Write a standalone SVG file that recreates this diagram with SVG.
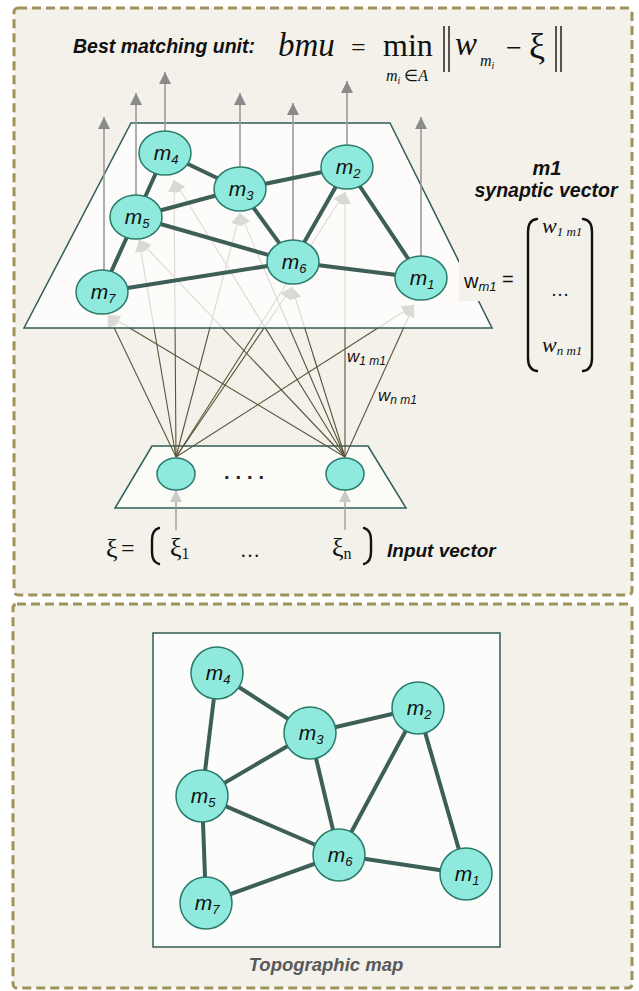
<svg xmlns="http://www.w3.org/2000/svg" width="639" height="991" viewBox="0 0 639 991">
<defs>
<marker id="ahIn" markerUnits="userSpaceOnUse" markerWidth="12" markerHeight="12" viewBox="0 0 12 12" refX="12" refY="6" orient="auto">
<path d="M0,0 L12,6 L0,12 Z" fill="#5c5339"/>
</marker>
<marker id="ahOut" markerUnits="userSpaceOnUse" markerWidth="12" markerHeight="12" viewBox="0 0 12 12" refX="12" refY="6" orient="auto">
<path d="M0,0 L12,6 L0,12 Z" fill="#8a8a8a"/>
</marker>
<marker id="ahLight" markerUnits="userSpaceOnUse" markerWidth="12" markerHeight="12" viewBox="0 0 12 12" refX="12" refY="6" orient="auto">
<path d="M0,0 L12,6 L0,12 Z" fill="#c9c9c7"/>
</marker>
</defs>
<style>
.panel{fill:#f3f1e9;stroke:#a0935a;stroke-width:3;stroke-dasharray:9 5}
.plane{fill:#ffffff;fill-opacity:0.78;stroke:#2e5e55;stroke-width:1.5}
.plane2{fill:#fbfbf8;stroke:#2e5e55;stroke-width:1.5}
.node{fill:#8fe9dc;stroke:#2a7b6b;stroke-width:1.5}
.edge{stroke:#3e5f57;stroke-width:4;stroke-linecap:round}
.in{stroke:#5c5339;stroke-width:1.1;fill:none;marker-end:url(#ahIn)}
.out{stroke:#9a9a9a;stroke-width:1.6;fill:none;marker-end:url(#ahOut)}
.inarr{stroke:#9a9a9a;stroke-width:1.3;fill:none;marker-end:url(#ahLight)}
.lbl{font-family:"Liberation Sans",Arial,sans-serif;font-style:italic;font-size:21px;fill:#111;text-anchor:middle}
.wl{font-family:"Liberation Sans",Arial,sans-serif;font-style:italic;font-size:17px;fill:#111}
.sub{font-size:13px}
.bi{font-family:"Liberation Sans",Arial,sans-serif;font-style:italic;font-weight:bold;fill:#111}
.math{font-family:"Liberation Serif","Times New Roman",serif;fill:#111}
.it{font-style:italic}
.br{stroke:#111;stroke-width:2.4;fill:none;stroke-linecap:round}
.bar{stroke:#111;stroke-width:1.4}
</style>

<!-- panels -->
<rect class="panel" x="14" y="8" width="618" height="587" rx="4"/>
<rect class="panel" x="13" y="604" width="619" height="384" rx="4"/>

<!-- title -->
<g id="title">
<text class="bi" x="73" y="53" font-size="19.5">Best matching unit:</text>
<text class="math it" x="278" y="56" font-size="33">bmu</text>
<text class="math" x="351" y="56" font-size="26">=</text>
<text class="math" x="383" y="56" font-size="32">min</text>
<text class="math" x="386" y="81" font-size="16"><tspan class="it">m</tspan><tspan class="it" font-size="10" dy="3">i</tspan><tspan dy="-3"> ∈</tspan><tspan class="it">A</tspan></text>
<line class="bar" x1="444" y1="26" x2="444" y2="72"/>
<line class="bar" x1="449" y1="26" x2="449" y2="72"/>
<text class="math it" x="455" y="55" font-size="33">w</text>
<text class="math it" x="480" y="66" font-size="16">m<tspan font-size="10" dy="3">i</tspan></text>
<text class="math" x="506" y="57" font-size="28">−</text>
<text class="math" x="529" y="58" font-size="36">ξ</text>
<line class="bar" x1="556" y1="26" x2="556" y2="72"/>
<line class="bar" x1="561" y1="26" x2="561" y2="72"/>
</g>

<!-- input plane -->
<g id="input-plane">
<polygon class="plane2" points="152,446 368,446 406,508 115,508"/>
</g>

<!-- input-to-map connectors -->
<g id="input-connectors">
<line class="in" x1="176" y1="457" x2="108" y2="315"/>
<line class="in" x1="176" y1="457" x2="139" y2="240"/>
<line class="in" x1="176" y1="457" x2="174" y2="180"/>
<line class="in" x1="176" y1="457" x2="240" y2="213"/>
<line class="in" x1="176" y1="457" x2="292" y2="287"/>
<line class="in" x1="176" y1="457" x2="345" y2="192"/>
<line class="in" x1="176" y1="457" x2="414" y2="305"/>
<line class="in" x1="345" y1="457" x2="108" y2="315"/>
<line class="in" x1="345" y1="457" x2="139" y2="240"/>
<line class="in" x1="345" y1="457" x2="174" y2="180"/>
<line class="in" x1="345" y1="457" x2="240" y2="213"/>
<line class="in" x1="345" y1="457" x2="292" y2="287"/>
<line class="in" x1="345" y1="457" x2="345" y2="192"/>
<line class="in" x1="345" y1="457" x2="414" y2="305"/>
</g>

<!-- map plane -->
<g id="map-plane">
<polygon class="plane" points="131,123 390,123 492,328 24,328"/>
</g>

<!-- output arrows -->
<g id="output-connectors">
<line class="out" x1="104" y1="270" x2="104" y2="117"/>
<line class="out" x1="136" y1="196" x2="136" y2="93"/>
<line class="out" x1="165" y1="132" x2="165" y2="72"/>
<line class="out" x1="240" y1="168" x2="240" y2="93"/>
<line class="out" x1="293" y1="241" x2="293" y2="103"/>
<line class="out" x1="347" y1="146" x2="347" y2="81"/>
<line class="out" x1="421" y1="257" x2="421" y2="117"/>
</g>

<!-- map edges -->
<g id="map-edges">
<line class="edge" x1="165" y1="153" x2="240" y2="189"/>
<line class="edge" x1="165" y1="153" x2="136" y2="217"/>
<line class="edge" x1="240" y1="189" x2="136" y2="217"/>
<line class="edge" x1="240" y1="189" x2="347" y2="167"/>
<line class="edge" x1="240" y1="189" x2="293" y2="262"/>
<line class="edge" x1="136" y1="217" x2="293" y2="262"/>
<line class="edge" x1="136" y1="217" x2="102" y2="292"/>
<line class="edge" x1="102" y1="292" x2="293" y2="262"/>
<line class="edge" x1="293" y1="262" x2="347" y2="167"/>
<line class="edge" x1="293" y1="262" x2="421" y2="278"/>
<line class="edge" x1="347" y1="167" x2="421" y2="278"/>
</g>

<!-- map nodes -->
<g id="map-m4"><ellipse class="node" cx="165" cy="153" rx="26" ry="22"/><text class="lbl" x="166" y="160">m<tspan class="sub" dy="4">4</tspan></text></g>
<g id="map-m3"><ellipse class="node" cx="240" cy="189" rx="26" ry="22"/><text class="lbl" x="241" y="196">m<tspan class="sub" dy="4">3</tspan></text></g>
<g id="map-m2"><ellipse class="node" cx="347" cy="167" rx="26" ry="22"/><text class="lbl" x="348" y="174">m<tspan class="sub" dy="4">2</tspan></text></g>
<g id="map-m5"><ellipse class="node" cx="136" cy="217" rx="26" ry="22"/><text class="lbl" x="137" y="224">m<tspan class="sub" dy="4">5</tspan></text></g>
<g id="map-m6"><ellipse class="node" cx="293" cy="262" rx="26" ry="22"/><text class="lbl" x="294" y="269">m<tspan class="sub" dy="4">6</tspan></text></g>
<g id="map-m7"><ellipse class="node" cx="102" cy="292" rx="26" ry="22"/><text class="lbl" x="103" y="299">m<tspan class="sub" dy="4">7</tspan></text></g>
<g id="map-m1"><ellipse class="node" cx="421" cy="278" rx="26" ry="22"/><text class="lbl" x="422" y="285">m<tspan class="sub" dy="4">1</tspan></text></g>

<!-- weight labels -->
<g id="weight-labels">
<text class="wl" x="347" y="362">w<tspan font-size="12" dy="3">1 m1</tspan></text>
<text class="wl" x="378" y="401">w<tspan font-size="12" dy="3">n m1</tspan></text>
</g>

<!-- synaptic vector -->
<g id="synaptic-vector">
<text class="bi" x="547" y="175" font-size="20" text-anchor="middle">m1</text>
<text class="bi" x="546" y="197" font-size="19.5" text-anchor="middle">synaptic vector</text>
<rect x="459" y="257" width="62" height="44" fill="#f3f1e9"/>
<text x="464" y="288" font-family="'Liberation Sans',Arial,sans-serif" font-size="20" fill="#111">w<tspan font-style="italic" font-size="13" dy="3">m1</tspan><tspan font-size="20" dy="-5"> =</tspan></text>
<path class="br" d="M537,219 Q528,220 528,232 L528,358 Q528,370 537,371"/>
<path class="br" d="M583,219 Q592,220 592,232 L592,358 Q592,370 583,371"/>
<text class="math it" x="542" y="233" font-size="22">w<tspan font-size="13" dy="3">1 m1</tspan></text>
<text class="math" x="560" y="296" font-size="18" text-anchor="middle">…</text>
<text class="math it" x="542" y="352" font-size="22">w<tspan font-size="13" dy="3">n m1</tspan></text>
</g>

<!-- input arrows -->
<g id="input-arrows">
<line class="inarr" x1="176" y1="530" x2="176" y2="490"/>
<line class="inarr" x1="345" y1="530" x2="345" y2="490"/>
</g>

<!-- input nodes -->
<g id="input-x1"><ellipse class="node" cx="176" cy="474" rx="19" ry="16"/></g>
<g id="input-xn"><ellipse class="node" cx="345" cy="474" rx="19" ry="16"/></g>
<text x="247" y="479" font-family="'Liberation Sans',Arial,sans-serif" font-size="20" font-weight="bold" fill="#222" text-anchor="middle" letter-spacing="6">....</text>

<!-- input vector -->
<g id="input-vector">
<text class="math" x="106" y="557" font-size="26">ξ</text>
<text class="math" x="121" y="556" font-size="24">=</text>
<path class="br" d="M159,528 Q152,530 152,540 L152,552 Q152,562 159,564"/>
<text class="math" x="170" y="556" font-size="26">ξ<tspan font-size="16" dy="3">1</tspan></text>
<text class="math" x="240" y="557" font-size="20">…</text>
<text class="math" x="332" y="556" font-size="26">ξ<tspan font-size="16" dy="3">n</tspan></text>
<path class="br" d="M364,528 Q371,530 371,540 L371,552 Q371,562 364,564"/>
<text class="bi" x="387" y="557" font-size="19">Input vector</text>
</g>

<!-- topographic map -->
<g id="topo-frame">
<rect x="153" y="633" width="347" height="314" fill="#fcfcfa" stroke="#2e5e55" stroke-width="1.5"/>
</g>
<g id="topo-edges">
<line class="edge" x1="217" y1="673" x2="310" y2="733"/>
<line class="edge" x1="217" y1="673" x2="202" y2="796"/>
<line class="edge" x1="310" y1="733" x2="418" y2="708"/>
<line class="edge" x1="310" y1="733" x2="202" y2="796"/>
<line class="edge" x1="310" y1="733" x2="339" y2="855"/>
<line class="edge" x1="202" y1="796" x2="339" y2="855"/>
<line class="edge" x1="202" y1="796" x2="206" y2="903"/>
<line class="edge" x1="206" y1="903" x2="339" y2="855"/>
<line class="edge" x1="339" y1="855" x2="418" y2="708"/>
<line class="edge" x1="339" y1="855" x2="466" y2="874"/>
<line class="edge" x1="418" y1="708" x2="466" y2="874"/>
</g>
<g id="topo-m4"><circle class="node" cx="217" cy="673" r="26"/><text class="lbl" x="218" y="680">m<tspan class="sub" dy="4">4</tspan></text></g>
<g id="topo-m3"><circle class="node" cx="310" cy="733" r="26"/><text class="lbl" x="311" y="740">m<tspan class="sub" dy="4">3</tspan></text></g>
<g id="topo-m2"><circle class="node" cx="418" cy="708" r="26"/><text class="lbl" x="419" y="715">m<tspan class="sub" dy="4">2</tspan></text></g>
<g id="topo-m5"><circle class="node" cx="202" cy="796" r="26"/><text class="lbl" x="203" y="803">m<tspan class="sub" dy="4">5</tspan></text></g>
<g id="topo-m6"><circle class="node" cx="339" cy="855" r="26"/><text class="lbl" x="340" y="862">m<tspan class="sub" dy="4">6</tspan></text></g>
<g id="topo-m1"><circle class="node" cx="466" cy="874" r="26"/><text class="lbl" x="467" y="881">m<tspan class="sub" dy="4">1</tspan></text></g>
<g id="topo-m7"><circle class="node" cx="206" cy="903" r="26"/><text class="lbl" x="207" y="910">m<tspan class="sub" dy="4">7</tspan></text></g>
<text class="bi" x="326" y="971" font-size="18.5" style="fill:#595959" text-anchor="middle">Topographic map</text>
</svg>
